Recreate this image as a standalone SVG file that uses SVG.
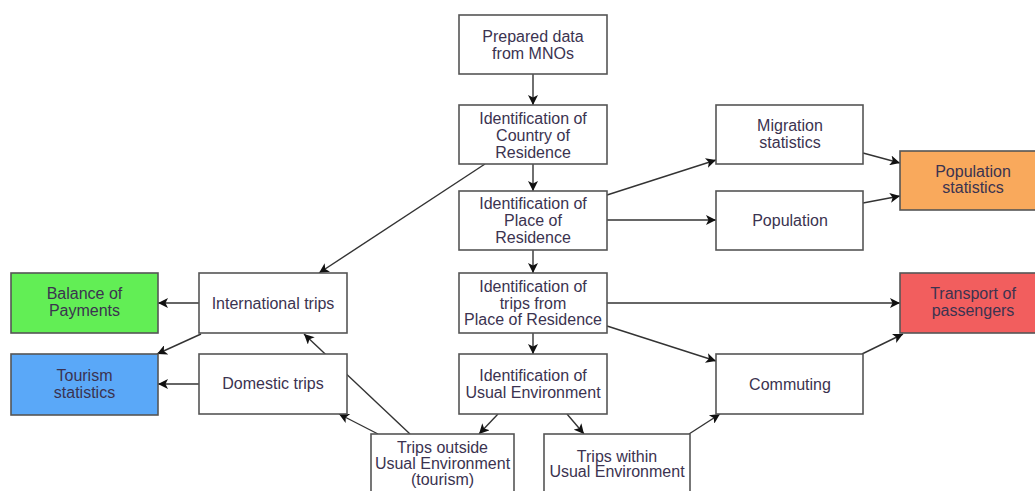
<svg xmlns="http://www.w3.org/2000/svg" width="1035" height="491" viewBox="0 0 1035 491">
<defs>
<marker id="ah" viewBox="0 0 10 10" refX="10" refY="5" markerWidth="11" markerHeight="10" markerUnits="userSpaceOnUse" orient="auto">
<path d="M0,0 L10,5 L0,10 L2.5,5 z" fill="#111"/>
</marker>
<style>
.n rect{stroke:#555;stroke-width:1.6;fill:#fff}
.n text{font-family:"Liberation Sans",Arial,sans-serif;font-size:16px;fill:#3b3350;text-anchor:middle}
#conn line{stroke:#333;stroke-width:1.4;marker-end:url(#ah)}
</style>
</defs>
<rect width="1035" height="491" fill="#fff"/>
<g id="conn">
<line x1="533" y1="74" x2="533" y2="105"/>
<line x1="533" y1="164" x2="533" y2="191"/>
<line x1="533" y1="250" x2="533" y2="273"/>
<line x1="533" y1="333" x2="533" y2="354"/>
<line x1="485" y1="164" x2="319" y2="273"/>
<line x1="607" y1="195" x2="716" y2="160"/>
<line x1="607" y1="220" x2="716" y2="220"/>
<line x1="863" y1="153" x2="900" y2="163"/>
<line x1="863" y1="203" x2="900" y2="196"/>
<line x1="607" y1="303" x2="900" y2="303"/>
<line x1="607" y1="326" x2="716" y2="361"/>
<line x1="862" y1="354" x2="903" y2="334"/>
<line x1="689" y1="434" x2="720" y2="414"/>
<line x1="498" y1="414" x2="479" y2="434"/>
<line x1="567" y1="414" x2="584" y2="434"/>
<line x1="199" y1="303" x2="158" y2="303"/>
<line x1="199" y1="384" x2="158" y2="384"/>
<line x1="201" y1="334" x2="157" y2="354"/>
<line x1="410" y1="434" x2="304" y2="334"/>
<line x1="378" y1="434" x2="339" y2="414"/>
</g>
<g id="prepared" class="n"><rect x="459" y="15" width="148" height="59"/><text x="533" y="42">Prepared data</text><text x="533" y="59">from MNOs</text></g>
<g id="country" class="n"><rect x="459" y="105" width="148" height="59"/><text x="533" y="123.5">Identification of</text><text x="533" y="140.5">Country of</text><text x="533" y="157.5">Residence</text></g>
<g id="place" class="n"><rect x="459" y="191" width="148" height="59"/><text x="533" y="209">Identification of</text><text x="533" y="226">Place of</text><text x="533" y="243">Residence</text></g>
<g id="tripsfrom" class="n"><rect x="459" y="273" width="148" height="60"/><text x="533" y="292">Identification of</text><text x="533" y="308.5">trips from</text><text x="533" y="325">Place of Residence</text></g>
<g id="usualenv" class="n"><rect x="459" y="354" width="148" height="60"/><text x="533" y="381">Identification of</text><text x="533" y="398">Usual Environment</text></g>
<g id="outside" class="n"><rect x="371" y="434" width="143" height="70"/><text x="442.5" y="453">Trips outside</text><text x="442.5" y="469">Usual Environment</text><text x="442.5" y="485">(tourism)</text></g>
<g id="within" class="n"><rect x="544" y="434" width="146" height="70"/><text x="617" y="462">Trips within</text><text x="617" y="477">Usual Environment</text></g>
<g id="migration" class="n"><rect x="716" y="105" width="147" height="59"/><text x="790" y="130.5">Migration</text><text x="790" y="147.5">statistics</text></g>
<g id="population" class="n"><rect x="716" y="191" width="147" height="59"/><text x="790" y="225.5">Population</text></g>
<g id="popstats" class="n"><rect x="900" y="151" width="147" height="59" style="fill:#f9a95c"/><text x="973" y="176.5">Population</text><text x="973" y="192.5">statistics</text></g>
<g id="transport" class="n"><rect x="900" y="273" width="147" height="60" style="fill:#f25e5e"/><text x="973" y="298.5">Transport of</text><text x="973" y="315.5">passengers</text></g>
<g id="commuting" class="n"><rect x="716" y="354" width="147" height="60"/><text x="790" y="389.5">Commuting</text></g>
<g id="international" class="n"><rect x="199" y="273" width="148" height="60"/><text x="273" y="308.5">International trips</text></g>
<g id="domestic" class="n"><rect x="199" y="354" width="148" height="60"/><text x="273" y="389">Domestic trips</text></g>
<g id="balance" class="n"><rect x="11" y="273" width="147" height="60" style="fill:#62ee55"/><text x="84.5" y="298.5">Balance of</text><text x="84.5" y="315.5">Payments</text></g>
<g id="tourism" class="n"><rect x="11" y="354" width="147" height="61" style="fill:#5aa8f8"/><text x="84.5" y="380.5">Tourism</text><text x="84.5" y="397.5">statistics</text></g>
</svg>
